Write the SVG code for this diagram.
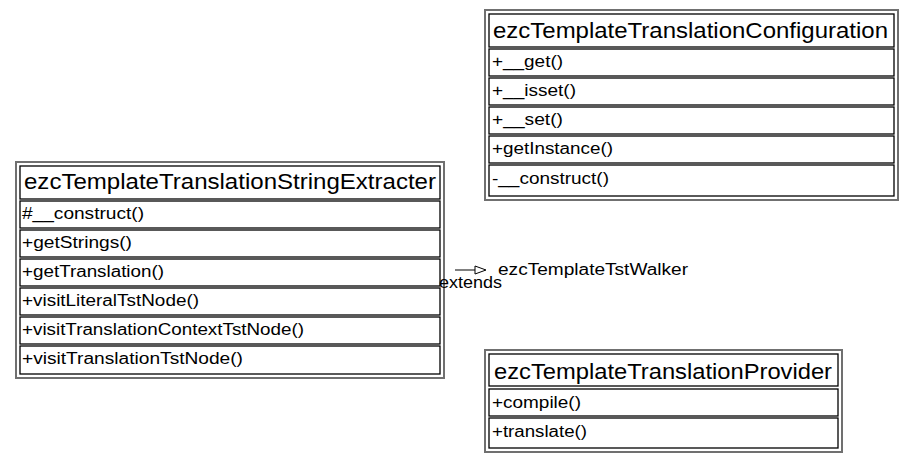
<svg xmlns="http://www.w3.org/2000/svg" width="916" height="463" viewBox="0 0 916 463">
<style>
.frame{fill:#fff;stroke:#707070;stroke-width:2}
.comp{fill:#fff;stroke:#000;stroke-width:1.3}
text{font-family:"Liberation Sans",Arial,sans-serif;fill:#000}
.title{font-size:22px}
.m{font-size:16px}
.lbl{font-size:16px}
</style>
<rect width="916" height="463" fill="#fff"/>
<g id="ezcTemplateTranslationStringExtracter">
<rect class="frame" x="16" y="162" width="428" height="216"/>
<rect class="comp" x="20" y="166" width="420" height="33"/>
<text class="title" x="24" y="189" textLength="412" lengthAdjust="spacingAndGlyphs">ezcTemplateTranslationStringExtracter</text>
<rect class="comp" x="20" y="201" width="420" height="27"/>
<text class="m" x="22" y="219" textLength="122" lengthAdjust="spacingAndGlyphs">#__construct()</text>
<rect class="comp" x="20" y="230" width="420" height="27"/>
<text class="m" x="22" y="248" textLength="110" lengthAdjust="spacingAndGlyphs">+getStrings()</text>
<rect class="comp" x="20" y="259" width="420" height="27"/>
<text class="m" x="22" y="277" textLength="142" lengthAdjust="spacingAndGlyphs">+getTranslation()</text>
<rect class="comp" x="20" y="288" width="420" height="27"/>
<text class="m" x="22" y="306" textLength="177" lengthAdjust="spacingAndGlyphs">+visitLiteralTstNode()</text>
<rect class="comp" x="20" y="317" width="420" height="27"/>
<text class="m" x="22" y="335" textLength="282" lengthAdjust="spacingAndGlyphs">+visitTranslationContextTstNode()</text>
<rect class="comp" x="20" y="346" width="420" height="28"/>
<text class="m" x="22" y="364" textLength="221" lengthAdjust="spacingAndGlyphs">+visitTranslationTstNode()</text>
</g>
<g id="ezcTemplateTranslationConfiguration">
<rect class="frame" x="485" y="10" width="413" height="190"/>
<rect class="comp" x="489" y="14" width="405" height="33"/>
<text class="title" x="493" y="38" textLength="395" lengthAdjust="spacingAndGlyphs">ezcTemplateTranslationConfiguration</text>
<rect class="comp" x="489" y="49" width="405" height="27"/>
<text class="m" x="492" y="67" textLength="71" lengthAdjust="spacingAndGlyphs">+__get()</text>
<rect class="comp" x="489" y="78" width="405" height="27"/>
<text class="m" x="492" y="96" textLength="84" lengthAdjust="spacingAndGlyphs">+__isset()</text>
<rect class="comp" x="489" y="107" width="405" height="27"/>
<text class="m" x="492" y="125" textLength="71" lengthAdjust="spacingAndGlyphs">+__set()</text>
<rect class="comp" x="489" y="136" width="405" height="27"/>
<text class="m" x="492" y="154" textLength="121" lengthAdjust="spacingAndGlyphs">+getInstance()</text>
<rect class="comp" x="489" y="165" width="405" height="31"/>
<text class="m" x="492" y="184" textLength="117" lengthAdjust="spacingAndGlyphs">-__construct()</text>
</g>
<g id="ezcTemplateTranslationProvider">
<rect class="frame" x="485" y="350" width="357" height="102"/>
<rect class="comp" x="489" y="354" width="349" height="32"/>
<text class="title" x="494" y="379" textLength="338" lengthAdjust="spacingAndGlyphs">ezcTemplateTranslationProvider</text>
<rect class="comp" x="489" y="389" width="349" height="27"/>
<text class="m" x="492" y="408" textLength="89" lengthAdjust="spacingAndGlyphs">+compile()</text>
<rect class="comp" x="489" y="418" width="349" height="30"/>
<text class="m" x="492" y="437" textLength="95" lengthAdjust="spacingAndGlyphs">+translate()</text>
</g>
<g id="connectors">
<line x1="455" y1="270" x2="475" y2="270" stroke="#000" stroke-width="1"/>
<polygon points="475,266 486,270 475,274" fill="#fff" stroke="#000" stroke-width="1"/>
<text class="lbl" x="498" y="275" textLength="190" lengthAdjust="spacingAndGlyphs">ezcTemplateTstWalker</text>
<text class="lbl" x="439" y="288" textLength="63" lengthAdjust="spacingAndGlyphs">extends</text>
</g>
</svg>
